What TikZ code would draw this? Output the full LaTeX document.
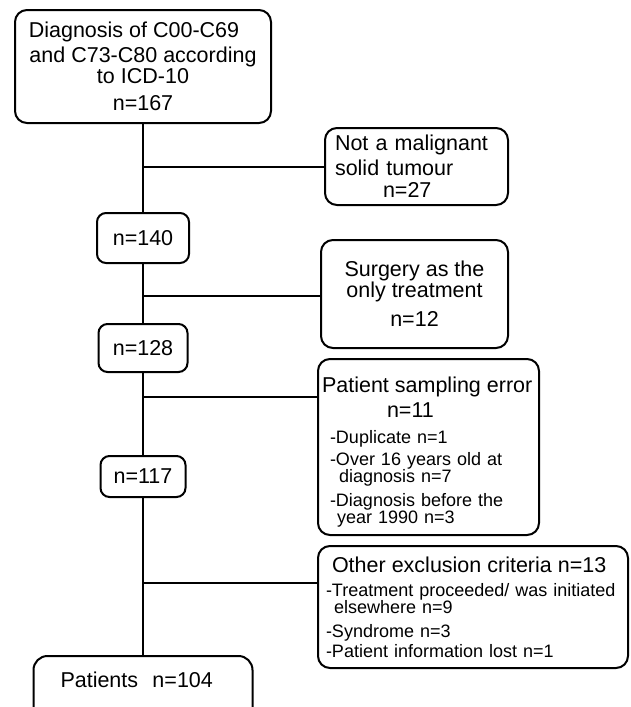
\documentclass[tikz,border=0pt]{standalone}
\usepackage{fontspec}
\setmainfont{Liberation Sans}
\newcommand{\bigtxt}{\fontsize{21.5}{22}\selectfont}
\newcommand{\smalltxt}{\fontsize{18}{22}\selectfont}
\tikzset{
    flowbox/.style={draw, line width=2pt, rounded corners=12pt, inner sep=0pt},
    countbox/.style={flowbox, rounded corners=9pt, font=\bigtxt},
    link/.style={line width=2pt},
}
\begin{document}
\begin{tikzpicture}[x=1pt,y=-1pt]
                \useasboundingbox (0,0) rectangle (630,707);
                \clip (0,0) rectangle (630,707);
                \node[flowbox, minimum width=256pt, minimum height=113pt, align=center, font=\bigtxt] (diag) at (143,66.5) {Diagnosis of C00-C69\hspace*{18pt}\\[3pt] and C73-C80 according\\[-1pt] to ICD-10\\[5pt] n=167};
                \node[countbox, minimum width=92pt, minimum height=50pt] (n140) at (143,238) {n=140};
                \node[countbox, minimum width=89pt, minimum height=48pt] (n128) at (143,348) {n=128};
                \node[countbox, minimum width=85pt, minimum height=41pt] (n117) at (143,476.5) {n=117};
                \node[flowbox, anchor=north, minimum width=219pt, text width=165pt, align=left, inner ysep=16pt, text depth=50pt, rounded corners=14pt, font=\bigtxt] (patients) at (143,655) {Patients\ \ n=104};
                \node[flowbox, minimum width=183pt, minimum height=77pt, text width=163pt, align=left, font=\bigtxt] (malig) at (416.5,166.5) {Not a malignant\\[3pt] solid tumour\\ \hspace*{48pt}n=27};
                \node[flowbox, minimum width=187pt, minimum height=108pt, align=center, font=\bigtxt] (surg) at (414.5,294) {Surgery as the\\[-1pt] only treatment\\[7pt] n=12};
                \node[flowbox, minimum width=221pt, minimum height=176pt, text width=213pt, align=left, font=\smalltxt] (sampl) at (428.5,447) {\rule{0pt}{25pt}{\bigtxt Patient sampling error}\\[3pt] \hspace*{65pt}{\bigtxt n=11}\\[4pt] \hspace*{8pt}-Duplicate n=1\\ \hspace*{8pt}-Over 16 years old at\\[-5pt] \hspace*{17pt}diagnosis n=7\\[2pt] \hspace*{8pt}-Diagnosis before the\\[-5pt] \hspace*{15pt}year 1990 n=3};
                \node[flowbox, minimum width=310pt, minimum height=122pt, text width=294pt, align=left, font=\smalltxt] (other) at (473,607) {\hspace*{6pt}{\bigtxt Other exclusion criteria n=13}\\[2pt] -Treatment proceeded/ was initiated\\[-5pt] \hspace*{8pt}elsewhere n=9\\[2pt] -Syndrome n=3\\[-2pt] -Patient information lost n=1};
                \draw[link] (diag) -- (n140) -- (n128) -- (n117) -- (patients);
                \coordinate (j1) at (143,167);
                \coordinate (j2) at (143,296);
                \coordinate (j3) at (143,397);
                \coordinate (j4) at (143,583);
                \draw[link] (j1) -- (j1 -| malig.west);
                \draw[link] (j2) -- (j2 -| surg.west);
                \draw[link] (j3) -- (j3 -| sampl.west);
                \draw[link] (j4) -- (j4 -| other.west);
            \end{tikzpicture}
\end{document}
